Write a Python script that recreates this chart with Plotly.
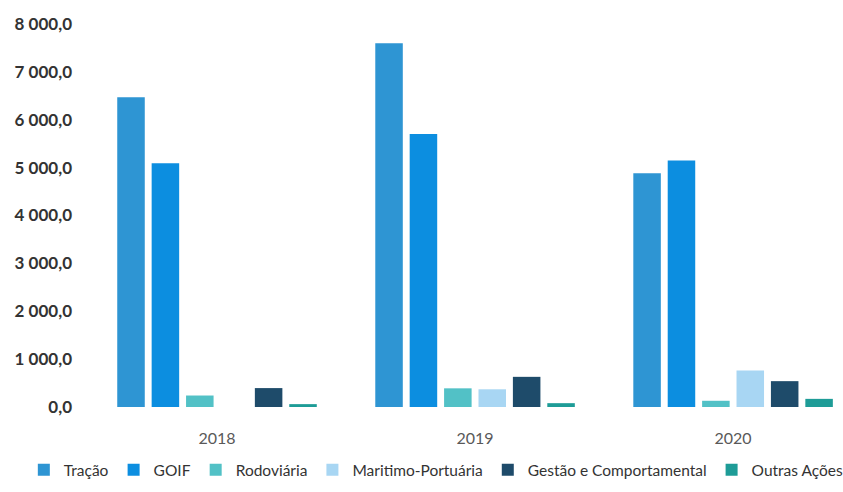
import plotly.graph_objects as go

years = ["2018", "2019", "2020"]
series_names = ["Tração", "GOIF", "Rodoviária", "Maritimo-Portuária",
                "Gestão e Comportamental", "Outras Ações"]
tracao = [6470, 7600, 4880]
goif = [5090, 5700, 5150]
rodoviaria = [240, 390, 130]
maritimo = [None, 370, 760]
gestao = [395, 630, 540]
outras = [60, 80, 170]
series_values = [tracao, goif, rodoviaria, maritimo, gestao, outras]
colors = ["#2E95D3", "#0C8EE0", "#52C1C6", "#A8D6F3", "#1E4B6A", "#1E9C97"]
y_ticks = [0, 1000, 2000, 3000, 4000, 5000, 6000, 7000, 8000]

fig = go.Figure()
for name, vals, col in zip(series_names, series_values, colors):
    fig.add_trace(go.Bar(x=years, y=vals, name=name, marker_color=col,
                         marker_line_width=0))

fig.update_layout(
    width=843, height=492,
    margin=dict(l=88, r=0, t=24, b=85, autoexpand=False),
    paper_bgcolor="white", plot_bgcolor="white",
    separators=", ",
    barmode="group", bargap=0.2, bargroupgap=0.2,
    font=dict(family="Lato", color="#404040"),
    showlegend=True,
    legend=dict(orientation="h", x=-0.085, xanchor="left",
                y=-0.165, yanchor="middle", bgcolor="rgba(0,0,0,0)",
                font=dict(size=15.5, color="#333333", family="Lato"),
                itemwidth=30, traceorder="normal", tracegroupgap=0),
)
fig.update_xaxes(type="category", range=[-0.5, 2.426], showgrid=False,
                 showline=False, ticks="",
                 tickfont=dict(size=16, color="#595959"),
                 ticklabelstandoff=20)
fig.update_yaxes(range=[0, 8000], tickvals=y_ticks, tickformat=",.1f",
                 showgrid=False, zeroline=False, showline=False,
                 tickfont=dict(size=17, color="#333333", weight="bold"),
                 ticklabelstandoff=15)

fig.write_html("out.html")
